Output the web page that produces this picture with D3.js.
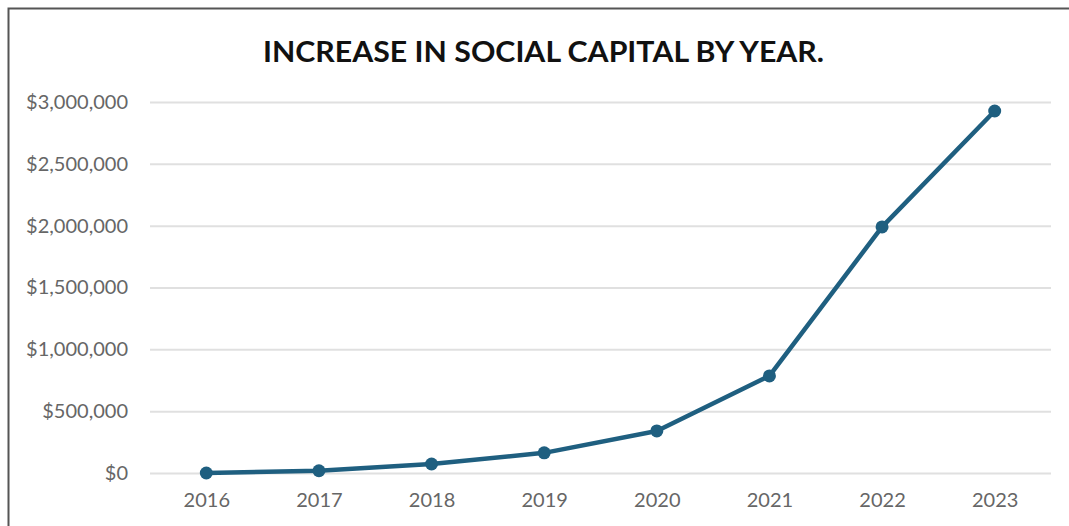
<!DOCTYPE html>
<html><head><meta charset="utf-8">
<script src="https://cdn.jsdelivr.net/npm/d3@7"></script>
<style>html,body{margin:0;padding:0;background:#fff;}</style>
</head><body>
<svg id="c" width="1069" height="526"></svg>
<script>
const years = ["2016","2017","2018","2019","2020","2021","2022","2023"];
const values = [0, 18000, 73000, 163000, 340000, 785000, 1990000, 2927000];
const yTicks = [0, 500000, 1000000, 1500000, 2000000, 2500000, 3000000];
const title = "INCREASE IN SOCIAL CAPITAL BY YEAR.";

const svg = d3.select("#c");
svg.append("rect").attr("x",8.5).attr("y",8.5).attr("width",1080).attr("height",540)
  .attr("fill","#fff").attr("stroke","#555").attr("stroke-width",2);

const x = d3.scalePoint().domain(years).range([150,1051]).padding(0.5);
const y = d3.scaleLinear().domain([0,3000000]).range([473,102]);

svg.append("text").attr("x",543.5).attr("y",62).attr("text-anchor","middle")
  .attr("font-family","Lato, 'Open Sans', sans-serif").attr("font-weight","bold")
  .attr("font-size",29).attr("fill","#111")
  .attr("textLength",561).attr("lengthAdjust","spacingAndGlyphs").text(title);

const fmt = d => "$" + d3.format(",")(d);
const ya = svg.append("g").attr("transform","translate(150,0)")
  .call(d3.axisLeft(y).tickValues(yTicks).tickFormat(fmt).tickSize(-901).tickPadding(22));
ya.select(".domain").remove();
ya.selectAll("line").attr("stroke","#e0e0e0").attr("stroke-width",2);
ya.selectAll("text").attr("fill","#666").attr("font-family","Lato, 'Open Sans', sans-serif").attr("font-size",20);

const xa = svg.append("g").attr("transform","translate(0,473)")
  .call(d3.axisBottom(x).tickSize(0).tickPadding(20));
xa.select(".domain").remove();
xa.selectAll("text").attr("fill","#666").attr("font-family","Lato, 'Open Sans', sans-serif").attr("font-size",20);

const data = years.map((yr,i)=>({yr, v: values[i]}));
svg.append("path").datum(data)
  .attr("fill","none").attr("stroke","#1f5f80").attr("stroke-width",4.5).attr("stroke-linejoin","round")
  .attr("d", d3.line().x(d=>x(d.yr)).y(d=>y(d.v)));
svg.selectAll("circle.pt").data(data).enter().append("circle").attr("class","pt")
  .attr("cx",d=>x(d.yr)).attr("cy",d=>y(d.v)).attr("r",6.5).attr("fill","#1f5f80");
</script>
</body></html>
